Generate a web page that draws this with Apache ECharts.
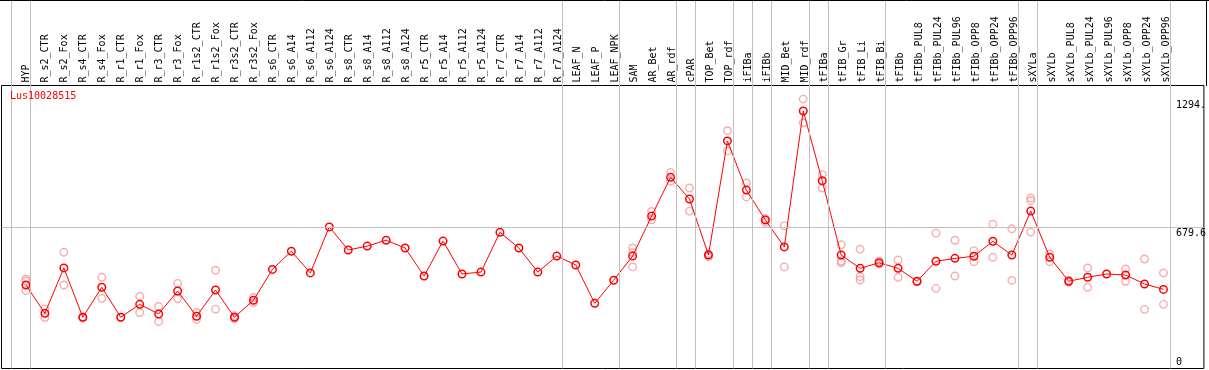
<!DOCTYPE html>
<html><head><meta charset="utf-8">
<script src="https://cdn.jsdelivr.net/npm/echarts@6/dist/echarts.min.js"></script>
<style>html,body{margin:0;padding:0;background:#fff}#c{width:1209px;height:370px}</style>
</head><body><div id="c"></div>
<script>
var categories = ["HYP","R_s2_CTR","R_s2_Fox","R_s4_CTR","R_s4_Fox","R_r1_CTR","R_r1_Fox","R_r3_CTR","R_r3_Fox","R_r1s2_CTR","R_r1s2_Fox","R_r3s2_CTR","R_r3s2_Fox","R_s6_CTR","R_s6_A14","R_s6_A112","R_s6_A124","R_s8_CTR","R_s8_A14","R_s8_A112","R_s8_A124","R_r5_CTR","R_r5_A14","R_r5_A112","R_r5_A124","R_r7_CTR","R_r7_A14","R_r7_A112","R_r7_A124","LEAF_N","LEAF_P","LEAF_NPK","SAM","AR_Bet","AR_rdf","cPAR","TOP_Bet","TOP_rdf","iFIBa","iFIBb","MID_Bet","MID_rdf","tFIBa","tFIB_Gr","tFIB_Li","tFIB_Bi","tFIBb","tFIBb_PUL8","tFIBb_PUL24","tFIBb_PUL96","tFIBb_OPP8","tFIBb_OPP24","tFIBb_OPP96","sXYLa","sXYLb","sXYLb_PUL8","sXYLb_PUL24","sXYLb_PUL96","sXYLb_OPP8","sXYLb_OPP24","sXYLb_OPP96"];
var means = [401,265,483,246,390,246,308,262,372,251,377,246,328,476,563,459,680,569,588,616,579,444,612,454,463,654,579,463,540,497,313,424,540,732,918,814,545,1093,857,713,584,1237,902,545,481,508,481,419,515,529,539,611,545,756,534,419,438,454,449,406,380];
var replicates = [[430,420,374],[285,245],[558,401],[248,242],[438,337],[246],[346,269],[298,226],[409,335],[269,236],[472,285],[253,240],[341,317],[],[],[],[],[],[],[],[],[],[],[],[],[],[],[],[],[],[],[],[579,557,488],[754,714],[942,899],[867,756],[537,551],[1142,1045],[891,824],[719,702],[685,488],[1294,1180],[931,867],[594,508,516],[573,441,425],[516,501],[521,438],[419,416],[650,385],[616,444],[566,513],[693,534],[671,423],[819,807,655],[550,513],[424,414],[483,390],[],[478,419],[526,284],[459,308]];
var separators = [-1, 0, 28, 31, 34, 35, 37, 38, 39, 41, 42, 45, 52, 53, 60];
var yTicks = [0, 679.6, 1294];
var yTickLabels = ["0", "679.6", "1294."];
var geneName = "Lus10028515";
var yMax = 1359.2;

var xMin = (1.5 - 26) / 19, xMax = (1206.5 - 26) / 19;
var meanData = means.map(function (v, i) { return [i, v]; });
var repData = [];
replicates.forEach(function (arr, i) { arr.forEach(function (v) { repData.push([i, v]); }); });
var mono = "DejaVu Sans Mono";

var chart = echarts.init(document.getElementById('c'), null, {renderer: 'canvas'});
chart.setOption({
  animation: false,
  backgroundColor: '#fff',
  title: {text: geneName, left: 10, top: 91, padding: 0,
    textStyle: {color: '#ff0000', fontSize: 10, fontWeight: 'normal', fontFamily: mono}},
  grid: [
    {left: 1.5, right: 2.5, top: 85.5, bottom: 1.5, show: true, borderColor: '#000', borderWidth: 1, backgroundColor: 'transparent'},
    {left: 1.5, right: 2.5, top: 0, bottom: 1.5, show: false},
    {left: 16.5, right: 33.5, top: 0, height: 85.5, show: false}
  ],
  xAxis: [
    {gridIndex: 0, type: 'value', min: xMin, max: xMax, show: false},
    {gridIndex: 1, type: 'value', min: xMin, max: xMax, show: false},
    {gridIndex: 2, type: 'category', data: categories, position: 'bottom',
      axisLine: {show: false}, axisTick: {show: false}, splitLine: {show: false},
      axisLabel: {inside: true, rotate: 90, margin: 3, interval: 0, color: '#000', fontSize: 10, fontFamily: mono}}
  ],
  yAxis: [
    {gridIndex: 0, type: 'value', min: 0, max: yMax, position: 'right',
      axisLine: {show: false}, axisTick: {show: false}, splitLine: {show: false},
      axisLabel: {inside: true, margin: 28, align: 'left', verticalAlign: 'middle', color: '#000', fontSize: 10, fontFamily: mono,
        customValues: yTicks, showMinLabel: true, showMaxLabel: true,
        formatter: function (v) {
          var idx = -1;
          for (var k = 0; k < yTicks.length; k++) { if (Math.abs(yTicks[k] - v) < 1e-6) idx = k; }
          if (idx < 0) return '';
          return (idx === 0 ? '{b|' : '{t|') + yTickLabels[idx] + '}';
        },
        rich: {t: {padding: [13, 0, 0, 0], fontSize: 10, fontFamily: mono, color: '#000'},
               b: {padding: [0, 0, 13, 0], fontSize: 10, fontFamily: mono, color: '#000'}}}},
    {gridIndex: 1, type: 'value', min: 0, max: 1, show: false},
    {gridIndex: 2, type: 'value', min: 0, max: 1, show: false}
  ],
  graphic: [
    {type: 'line', shape: {x1: 0, y1: 0.5, x2: 1209, y2: 0.5}, style: {stroke: '#000', lineWidth: 1}, z: 100},
    {type: 'line', shape: {x1: 1206.5, y1: 0, x2: 1206.5, y2: 86}, style: {stroke: '#000', lineWidth: 1}, z: 100}
  ],
  series: [
    {type: 'line', xAxisIndex: 1, yAxisIndex: 1, data: [], silent: true, z: 1,
      markLine: {silent: true, symbol: ['none', 'none'], label: {show: false},
        lineStyle: {color: '#c0c0c0', width: 1, type: 'solid'},
        data: separators.map(function (s) { return {xAxis: s + 0.24}; })}},
    {type: 'line', xAxisIndex: 0, yAxisIndex: 0, data: [], silent: true, z: 1,
      markLine: {silent: true, symbol: ['none', 'none'], label: {show: false},
        lineStyle: {color: '#c0c0c0', width: 1, type: 'solid'},
        data: [{yAxis: yMax / 2}]}},
    {type: 'line', xAxisIndex: 2, yAxisIndex: 2, data: [], silent: true},
    {type: 'scatter', xAxisIndex: 0, yAxisIndex: 0, data: repData, symbol: 'circle', symbolSize: 7.5, z: 3,
      itemStyle: {color: 'rgba(0,0,0,0)', borderColor: '#f29a9a', borderWidth: 1.4}},
    {type: 'line', xAxisIndex: 0, yAxisIndex: 0, data: meanData, symbol: 'circle', symbolSize: 7.5, z: 4,
      lineStyle: {color: '#ff0000', width: 1},
      itemStyle: {color: 'rgba(0,0,0,0)', borderColor: '#ff0000', borderWidth: 1.5}}
  ]
});
</script></body></html>
